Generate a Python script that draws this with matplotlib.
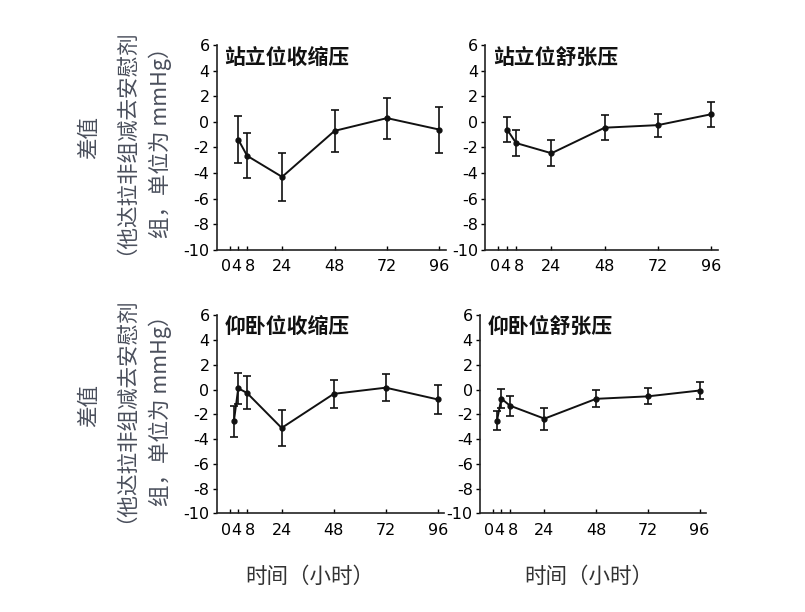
import matplotlib
matplotlib.use('Agg')
from matplotlib import pyplot as plt

plt.rcParams['font.family'] = ['Noto Sans CJK SC', 'DejaVu Sans']

# hours after dose
t_stand = [4, 8, 24, 48, 72, 96]
t_supine = [2, 4, 8, 24, 48, 72, 96]

# standing systolic
ss_mean = [-1.4, -2.65, -4.3, -0.7, 0.3, -0.6]
ss_err = [1.85, 1.75, 1.9, 1.65, 1.6, 1.8]
# standing diastolic
sd_mean = [-0.6, -1.65, -2.45, -0.45, -0.25, 0.6]
sd_err = [1.0, 1.05, 1.03, 0.98, 0.9, 0.96]
# supine systolic
ps_mean = [-2.55, 0.1, -0.27, -3.1, -0.35, 0.15, -0.8]
ps_err = [1.25, 1.25, 1.33, 1.45, 1.15, 1.1, 1.2]
# supine diastolic
pd_mean = [-2.5, -0.73, -1.3, -2.35, -0.75, -0.55, -0.08]
pd_err = [0.8, 0.77, 0.8, 0.9, 0.68, 0.65, 0.66]

titles = ['站立位收缩压', '站立位舒张压', '仰卧位收缩压', '仰卧位舒张压']
xticks = [0, 4, 8, 24, 48, 72, 96]
yticks = [-10, -8, -6, -4, -2, 0, 2, 4, 6]
# the three crowded labels get nudged apart (points)
nudge = {0: -2.5, 4: -1.2, 8: 2.2}

fig = plt.figure(figsize=(8.05, 6.12), dpi=100)

boxes = [
    [0.269, 0.592, 0.285, 0.334],
    [0.6025, 0.592, 0.289, 0.334],
    [0.269, 0.161, 0.283, 0.324],
    [0.596, 0.161, 0.281, 0.324],
]
panels = [
    (t_stand, ss_mean, ss_err),
    (t_stand, sd_mean, sd_err),
    (t_supine, ps_mean, ps_err),
    (t_supine, pd_mean, pd_err),
]

for box, (t, m, e), title in zip(boxes, panels, titles):
    ax = fig.add_axes(box)
    ax.errorbar(t, m, yerr=e, color='#111111', lw=1.4, elinewidth=1.2,
                capsize=3, capthick=1.2, marker='o', markersize=3.5)
    ax.set_xlim(-6, 99)
    ax.set_ylim(-10, 6)
    ax.set_xticks(xticks)
    ax.set_xticklabels(['' if v in nudge else str(v) for v in xticks],
                       family='DejaVu Sans')
    for v, dx in nudge.items():
        ax.annotate(str(v), xy=(v, 0), xycoords=('data', 'axes fraction'),
                    xytext=(dx, -7), textcoords='offset points',
                    ha='center', va='top', fontsize=11.5, family='DejaVu Sans')
    ax.set_yticks(yticks)
    ax.set_yticklabels([str(v) for v in yticks], family='DejaVu Sans')
    ax.tick_params(axis='x', direction='in', length=3, width=1, labelsize=11.5, pad=7)
    ax.tick_params(axis='y', direction='out', length=3, width=1, labelsize=11.5, pad=2)
    for s in ['top', 'right']:
        ax.spines[s].set_visible(False)
    for s in ['left', 'bottom']:
        ax.spines[s].set_linewidth(1.2)
        ax.spines[s].set_color('#222222')
    ax.text(0.035, 0.943, title, transform=ax.transAxes, fontsize=15,
            fontweight='bold', va='center', ha='left', color='#111111')

lab_color = '#4a4f5c'
for yc in [0.776, 0.338]:
    fig.text(89 / 805, yc, '差值', rotation=90, ha='center', va='center',
             fontsize=15.5, color=lab_color)
    fig.text(115 / 805, yc, '（他达拉非组减去安慰剂', rotation=90, ha='center',
             va='center', fontsize=15.5, color=lab_color)
    fig.text(160 / 805, yc, '组，单位为 mmHg）', rotation=90, ha='center',
             va='center', fontsize=15.5, color=lab_color)

fig.text(310 / 805, 1 - 577 / 612, '时间（小时）', ha='center', va='center',
         fontsize=15.5, color='#333333')
fig.text(589 / 805, 1 - 577 / 612, '时间（小时）', ha='center', va='center',
         fontsize=15.5, color='#333333')

plt.savefig('out.png', dpi=100)
